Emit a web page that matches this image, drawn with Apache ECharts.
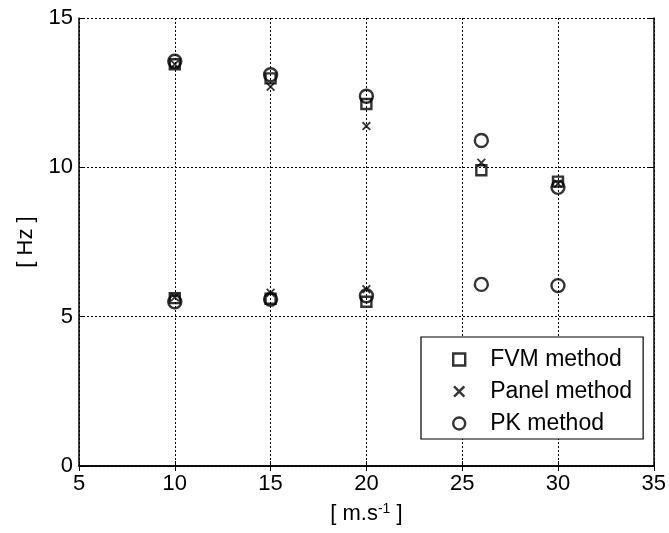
<!doctype html>
<html lang="en">
<head>
    <meta charset="UTF-8">
    <title>Frequency vs speed</title>
    <script src="https://cdn.jsdelivr.net/npm/echarts@6/dist/echarts.min.js"></script>
    <style>
        html, body { margin: 0; padding: 0; background: #fff; }
        #main { width: 669px; height: 533px; }
    </style>
</head>
<body>
<div id="main"></div>
<script>
    // airspeed [m/s]
    var speed = [10, 15, 20, 26, 30];
    var speedLow = [10, 15, 20];
    var speedLowPK = [10, 15, 20, 26, 30];

    // frequencies [Hz]
    var fvmUpper = [13.45, 12.98, 12.12, 9.90, 9.52];
    var fvmLower = [5.62, 5.60, 5.50];
    var panelUpper = [13.45, 12.70, 11.38, 10.15, 9.45];
    var panelLower = [5.65, 5.80, 5.92];
    var pkUpper = [13.55, 13.10, 12.38, 10.90, 9.33];
    var pkLower = [5.50, 5.58, 5.70, 6.08, 6.04];

    var xTicks = [5, 10, 15, 20, 25, 30, 35];
    var yTicks = [0, 5, 10, 15];

    function pairs(xs, ys) {
        var out = [];
        for (var i = 0; i < xs.length; i++) out.push([xs[i], ys[i]]);
        return out;
    }

    var crossPath = 'path://M0,1.4 L1.4,0 L5,3.6 L8.6,0 L10,1.4 L6.4,5 L10,8.6 L8.6,10 L5,6.4 L1.4,10 L0,8.6 L3.6,5 Z';
    var font = 'Liberation Sans, Arial, sans-serif';

    var myChart = echarts.init(document.getElementById('main'));

    var axisCommon = {
        type: 'value',
        axisLine: {show: true, lineStyle: {color: '#000', width: 1.5}},
        axisTick: {show: true, inside: true, length: 5, lineStyle: {color: '#000', width: 1}},
        splitLine: {show: false}
    };

    var option = {
        backgroundColor: '#fff',
        animation: false,
        grid: {left: 79, right: 13, top: 18, bottom: 67, containLabel: false},
        legend: {
            left: 421,
            top: 337,
            orient: 'vertical',
            backgroundColor: '#fff',
            borderColor: '#000',
            borderWidth: 1.2,
            borderRadius: 0,
            padding: [11, 11, 4, 31],
            itemWidth: 12,
            itemHeight: 12,
            itemGap: 9,
            textStyle: {fontSize: 23, fontFamily: font, color: '#000', padding: [0, 0, 0, 20]},
            data: [
                {name: 'FVM method', icon: 'rect', itemStyle: {borderWidth: 2.4}},
                {name: 'Panel method', icon: crossPath, itemStyle: {borderWidth: 0, color: '#000'}},
                {name: 'PK method', icon: 'circle', itemStyle: {borderWidth: 2.4}}
            ]
        },
        xAxis: [
            Object.assign({}, axisCommon, {
                min: 5, max: 35, interval: 5,
                name: '{n|[ m.s}{s|-1}{n| ]}',
                nameLocation: 'middle',
                nameGap: 36,
                nameTextStyle: {
                    rich: {
                        n: {fontSize: 22, fontFamily: font, color: '#000'},
                        s: {fontSize: 14, fontFamily: font, color: '#000', verticalAlign: 'top', padding: [0, 0, 10, 0]}
                    }
                },
                axisLabel: {fontSize: 22, fontFamily: font, color: '#000', margin: 7},
                splitLine: {show: true, lineStyle: {color: '#000', type: [2, 2], width: 1}}
            }),
            Object.assign({}, axisCommon, {
                position: 'top', min: 5, max: 35, interval: 5,
                axisLabel: {show: false}
            })
        ],
        yAxis: [
            Object.assign({}, axisCommon, {
                min: 0, max: 15, interval: 5,
                name: '[ Hz ]',
                nameLocation: 'middle',
                nameGap: 42,
                nameTextStyle: {fontSize: 22, fontFamily: font, color: '#000'},
                axisLabel: {fontSize: 22, fontFamily: font, color: '#000', margin: 6},
                splitLine: {show: true, lineStyle: {color: '#000', type: [2, 2], width: 1}}
            }),
            Object.assign({}, axisCommon, {
                position: 'right', min: 0, max: 15, interval: 5,
                axisLabel: {show: false}
            })
        ],
        series: [
            {
                name: 'FVM method',
                type: 'scatter',
                symbol: 'rect',
                symbolSize: 10,
                itemStyle: {color: 'rgba(0,0,0,0)', borderColor: '#000', borderWidth: 2.4},
                data: pairs(speed, fvmUpper).concat(pairs(speedLow, fvmLower))
            },
            {
                name: 'Panel method',
                type: 'scatter',
                symbol: crossPath,
                symbolSize: 9,
                itemStyle: {color: '#000', borderWidth: 0},
                data: pairs(speed, panelUpper).concat(pairs(speedLow, panelLower))
            },
            {
                name: 'PK method',
                type: 'scatter',
                symbol: 'circle',
                symbolSize: 13,
                itemStyle: {color: 'rgba(0,0,0,0)', borderColor: '#000', borderWidth: 2.4},
                data: pairs(speed, pkUpper).concat(pairs(speedLowPK, pkLower))
            }
        ]
    };

    myChart.setOption(option);
</script>
</body>
</html>
